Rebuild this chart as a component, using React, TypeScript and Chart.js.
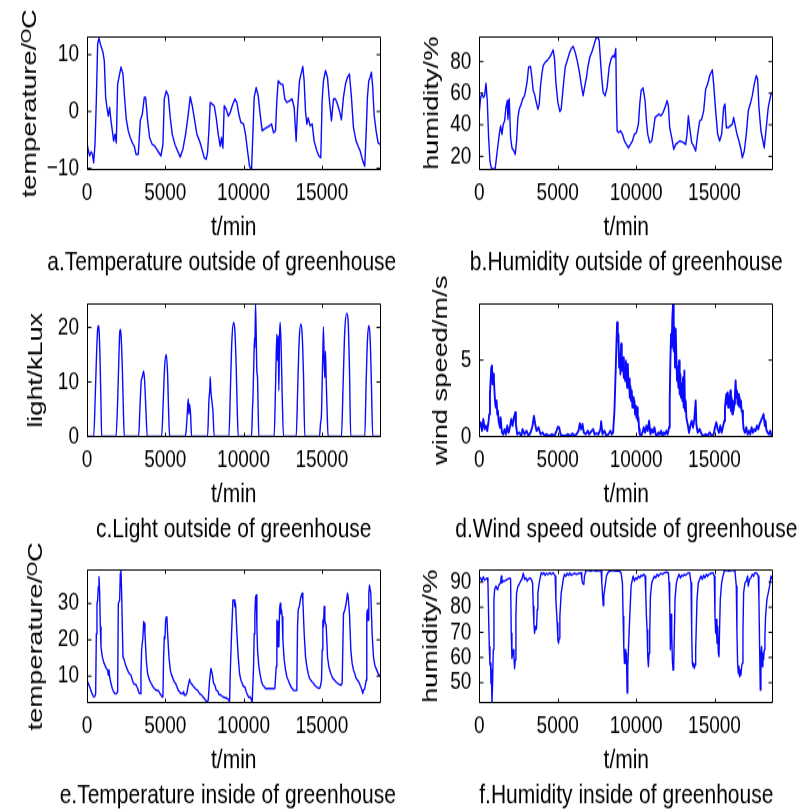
import React, { useEffect, useRef } from "react";
import { Chart, registerables } from "chart.js";

Chart.register(...registerables);

const FONT = '"Liberation Sans", Arial, Helvetica, sans-serif';
const BLUE = "rgb(10,10,255)";

// shared x axis
const xTicks = [0, 5000, 10000, 15000];
const xMax = 18750;
const xTitle = "t/min";

// a. Temperature outside of greenhouse
const tempOutT = [0,85,170,255,340,425,510,596,680,766,851,1021,1106,1191,1277,1362,1447,1532,1617,1702,1787,1872,1957,2043,2170,2298,2383,2511,2638,2766,2894,3021,3128,3277,3404,3532,3660,3745,3872,4000,4170,4340,4511,4723,4851,4936,5064,5191,5319,5447,5617,5787,5957,6128,6298,6468,6596,6723,6851,7021,7191,7319,7489,7617,7702,7787,7872,8000,8128,8255,8383,8511,8596,8681,8766,8894,9021,9149,9277,9447,9574,9702,9830,10000,10128,10255,10383,10511,10596,10681,10809,10936,11064,11191,11319,11489,11660,11787,11915,12043,12128,12213,12383,12511,12638,12766,12936,13106,13234,13362,13447,13574,13702,13787,13872,13957,14043,14128,14255,14383,14511,14681,14809,14936,15021,15106,15234,15362,15489,15617,15745,15872,16000,16128,16255,16383,16511,16638,16766,16894,17021,17191,17319,17447,17617,17745,17830,17915,18000,18085,18170,18255,18340,18468,18596,18723];
const tempOutV = [-5.5,-6.9,-7.8,-7.1,-7.4,-9.0,-5.8,1.9,11.9,12.9,11.9,10.4,8.9,2.5,0.7,-0.8,0.7,-1.6,-3.4,-5.2,-4.0,-5.5,4.8,6.0,7.8,6.6,3.1,-1.4,-3.4,-4.6,-5.5,-6.1,-7.5,-7.5,-1.6,-0.5,2.5,2.5,-1.6,-4.6,-5.8,-6.1,-6.9,-7.8,-5.8,2.2,3.6,2.8,-1.1,-4.0,-5.8,-6.9,-8.0,-6.6,-4.0,-0.5,2.6,1.0,-1.1,-4.0,-5.2,-6.4,-8.1,-8.4,-7.2,-3.4,1.6,1.3,1.0,-1.1,-4.0,-6.1,-4.6,-6.4,1.0,0.4,-0.8,-0.2,1.0,2.2,1.6,-0.5,-1.9,-2.2,-4.0,-6.9,-9.6,-10.2,-4.0,2.5,4.2,2.8,-0.5,-3.4,-3.1,-2.8,-2.5,-2.2,-3.7,-3.4,1.9,5.4,4.8,4.8,2.2,1.6,1.9,2.2,0.7,-5.2,0.1,5.4,6.9,7.9,5.4,0.1,-2.2,-1.1,-2.5,-2.2,-5.2,-6.9,-7.8,-8.1,1.9,5.4,7.2,6.0,1.9,-1.6,2.2,2.2,1.3,0.1,-1.4,2.5,4.8,6.0,6.6,2.5,-2.8,-5.2,-6.1,-6.9,-8.7,-9.6,-4.0,2.5,5.4,6.0,6.9,4.2,-0.5,-3.4,-5.5,-5.8];
const tempOutTicks = [-10, 0, 10];

// b. Humidity outside of greenhouse
const humOutT = [0,85,170,255,340,425,510,594,679,764,892,1019,1146,1274,1359,1444,1529,1614,1699,1783,1826,1911,1996,2081,2208,2293,2378,2463,2548,2675,2760,2887,2972,3057,3142,3270,3355,3439,3524,3609,3737,3822,3907,3992,4076,4204,4331,4459,4586,4713,4798,4883,5011,5138,5223,5350,5478,5605,5732,5860,5987,6115,6242,6369,6497,6624,6752,6837,6921,7049,7176,7304,7431,7558,7643,7728,7813,7898,8025,8153,8280,8408,8535,8620,8705,8747,8790,8875,9002,9130,9257,9384,9512,9639,9766,9894,10021,10149,10234,10318,10446,10573,10658,10743,10870,10998,11125,11210,11338,11465,11592,11720,11847,11975,12059,12144,12272,12399,12527,12654,12781,12909,13036,13164,13248,13333,13418,13546,13673,13800,13928,14055,14183,14310,14437,14565,14692,14862,14947,15074,15202,15329,15456,15584,15669,15754,15881,16008,16136,16221,16306,16433,16561,16688,16773,16900,17028,17155,17282,17410,17537,17665,17750,17834,17962,18089,18174,18301,18429,18556,18641];
const humOutV = [47.8,57.3,59.4,57.3,58.4,66.2,55.2,31.9,17.0,12.8,11.7,12.8,23.4,34.0,39.3,34.0,40.4,42.5,51.0,55.2,43.5,56.3,31.9,25.5,23.4,21.3,29.8,44.6,49.9,53.1,56.3,58.4,62.6,67.9,76.4,76.8,70.0,61.6,59.4,55.2,49.9,53.1,64.7,72.2,77.5,79.6,80.6,82.3,84.4,87.4,81.7,66.9,54.1,48.4,49.9,63.7,76.4,80.6,84.9,88.1,89.5,85.9,80.6,74.3,65.8,58.4,65.8,70.0,76.4,82.8,85.9,90.2,94.4,95.5,93.4,80.6,69.0,60.5,58.4,63.7,76.4,81.7,83.8,82.8,88.1,55.2,36.1,35.1,36.1,34.0,29.8,27.6,25.5,27.6,29.8,34.0,35.1,40.4,53.1,61.6,63.2,55.2,42.5,34.0,28.7,29.8,38.2,44.6,45.7,46.7,45.7,47.8,51.0,55.2,52.0,38.2,31.9,24.5,27.6,28.7,29.8,29.3,28.7,27.6,34.0,45.7,38.2,28.7,26.6,23.4,34.0,42.5,43.5,48.8,62.6,65.8,71.1,74.7,65.8,48.8,34.0,29.8,34.0,51.0,53.1,38.2,38.2,39.3,40.4,44.6,40.4,34.0,29.8,24.5,19.2,23.4,34.0,48.8,53.1,58.4,65.8,71.1,69.0,51.0,36.1,29.8,25.5,38.2,51.0,57.3,60.5];
const humOutTicks = [20, 40, 60, 80];

// c. Light outside of greenhouse
const lightT = [0,426,532,617,681,723,766,830,894,936,1851,1958,2043,2085,2128,2170,2256,2320,2383,3298,3383,3468,3532,3617,3681,3766,3851,4766,4872,4957,5064,5149,5213,5277,6255,6340,6404,6468,6511,6553,6617,6681,7702,7787,7851,7872,7915,7979,8043,8128,9064,9170,9255,9362,9447,9532,9596,9660,10511,10575,10596,10660,10702,10724,10766,10809,10851,10894,10936,10979,11957,12043,12128,12170,12213,12255,12298,12340,12404,12468,12553,13362,13468,13553,13660,13745,13830,13915,14851,14915,14979,15021,15064,15106,15149,15191,15234,15277,15340,15404,16255,16362,16468,16596,16681,16766,16851,17745,17830,17915,18000,18085,18170,18255,18750];
const lightV = [0,0,7.8,15.7,19.7,20.3,19.7,14.5,5.9,0,0,6.5,15.1,18.8,19.6,18.8,12.7,5.3,0,0,5.3,10.2,10.9,12.0,10.2,4.7,0,0,6.5,12.7,15.0,11.4,4.7,0,0,1.3,4.1,6.9,4.1,5.9,4.1,0,0,6.5,9.0,10.9,8.4,6.5,4.7,0,0,9.6,17.6,20.9,19.4,12.7,5.3,0,0,5.3,6.5,13.9,18.2,16.3,24.3,18.8,12.0,10.8,4.7,0,0,9.0,18.8,13.9,18.5,8.4,18.2,20.9,16.3,7.8,0,0,9.6,17.6,20.6,18.8,11.4,0,0,2.3,4.1,9.6,15.1,20.1,13.9,10.8,15.7,10.8,4.7,0,0,9.6,19.4,22.6,21.2,12.7,0,0,9.6,17.6,20.3,18.2,9.6,0,0];
const lightTicks = [0, 10, 20];

// d. Wind speed outside of greenhouse  [t/min, m/s]
const windPts: [number, number][] = [[0,0.59],[85,0.92],[170,0.37],[255,1.14],[340,0.48],[425,0.70],[510,0.37],[594,1.03],[637,1.46],[679,2.77],[722,3.65],[764,4.52],[807,4.63],[849,3.43],[892,4.08],[934,3.65],[977,2.77],[1019,2.12],[1062,1.90],[1104,2.34],[1146,1.46],[1189,1.68],[1231,1.03],[1316,0.59],[1359,1.24],[1444,0.26],[1529,0.15],[1613,0.48],[1698,0.15],[1783,0.70],[1868,0.26],[1953,0.59],[2038,1.14],[2123,0.70],[2208,1.24],[2293,1.57],[2335,0.81],[2420,0.15],[2548,0.26],[2675,0.04],[2760,0.48],[2887,0.15],[3015,0.37],[3142,0.04],[3269,0.26],[3397,0.70],[3482,1.35],[3567,0.81],[3652,0.37],[3779,0.59],[3906,0.15],[4034,0.26],[4161,0.04],[4288,0.15],[4458,0.04],[4628,0.15],[4798,0.04],[4925,0.37],[5010,0.63],[5095,0.59],[5180,0.15],[5308,0.04],[5477,0.04],[5647,0.15],[5817,0.04],[5944,0.20],[6072,0.04],[6199,0.15],[6327,0.37],[6411,0.85],[6496,0.48],[6581,0.81],[6666,0.26],[6794,0.15],[6921,0.37],[7006,0.15],[7133,0.33],[7261,0.48],[7346,0.15],[7473,0.20],[7600,0.15],[7728,0.48],[7770,0.98],[7855,0.15],[7982,0.37],[8110,0.04],[8237,0.15],[8365,0.37],[8450,0.15],[8534,0.26],[8619,1.68],[8704,4.52],[8747,6.05],[8789,7.47],[8832,6.27],[8874,6.70],[8917,4.52],[8959,5.39],[9002,4.08],[9044,6.05],[9086,4.96],[9129,4.30],[9171,5.17],[9214,3.86],[9256,4.52],[9299,3.65],[9341,4.96],[9384,4.08],[9426,3.21],[9469,4.74],[9511,3.43],[9554,3.76],[9596,2.55],[9638,3.32],[9681,2.34],[9723,2.99],[9766,1.90],[9808,2.55],[9851,1.90],[9893,2.34],[9936,1.46],[9978,2.01],[10021,1.24],[10063,1.90],[10105,1.03],[10148,1.24],[10190,0.48],[10233,0.15],[10318,0.04],[10403,0.26],[10488,0.59],[10573,0.26],[10657,0.70],[10742,0.37],[10827,1.03],[10912,0.15],[10997,0.48],[11082,0.26],[11167,0.59],[11252,0.15],[11337,0.04],[11422,0.26],[11507,0.15],[11592,0.37],[11677,0.04],[11761,0.26],[11846,0.15],[11931,0.37],[12016,0.15],[12101,0.59],[12144,2.34],[12186,4.96],[12228,6.70],[12271,5.83],[12313,7.79],[12356,8.67],[12398,5.61],[12441,7.14],[12483,4.52],[12526,7.03],[12568,5.17],[12611,3.65],[12653,4.52],[12696,3.21],[12738,4.96],[12780,2.77],[12823,4.08],[12865,2.55],[12908,3.43],[12950,2.34],[12993,3.86],[13035,1.90],[13078,4.30],[13120,1.68],[13163,2.34],[13205,1.24],[13290,0.81],[13375,0.26],[13460,0.70],[13545,1.03],[13630,0.59],[13715,1.14],[13800,2.34],[13842,0.81],[13927,0.26],[14054,0.48],[14182,0.15],[14309,0.04],[14436,0.15],[14564,0.04],[14691,0.26],[14818,0.04],[14946,0.15],[15031,0.59],[15116,0.92],[15201,0.48],[15286,0.26],[15370,0.70],[15455,0.26],[15540,0.63],[15625,1.03],[15668,1.90],[15710,2.34],[15753,2.77],[15795,2.12],[15838,2.88],[15880,1.90],[15923,2.66],[15965,2.12],[16007,2.99],[16050,1.68],[16092,2.55],[16135,1.46],[16177,2.34],[16220,1.68],[16262,2.12],[16305,2.77],[16347,3.65],[16390,2.55],[16432,2.99],[16474,2.12],[16517,2.77],[16559,2.01],[16602,2.55],[16644,1.90],[16687,2.34],[16729,1.68],[16772,1.68],[16814,1.03],[16857,0.48],[16942,0.26],[17026,0.59],[17111,0.15],[17196,0.37],[17281,0.15],[17366,0.59],[17451,0.26],[17536,0.48],[17621,0.37],[17706,0.70],[17791,0.48],[17876,0.81],[17961,1.03],[18046,1.24],[18130,1.46],[18173,1.03],[18215,0.70],[18258,1.03],[18300,0.48],[18385,0.26],[18470,0.15],[18555,0.37],[18640,0.04]];
const windTicks = [0, 5];

// e. Temperature inside of greenhouse
const tempInT = [0,85,170,255,340,426,511,553,596,638,681,724,766,809,851,894,979,1064,1149,1234,1319,1362,1404,1447,1532,1617,1702,1788,1873,1958,2000,2085,2128,2171,2213,2298,2383,2468,2554,2639,2724,2809,2894,2979,3064,3149,3235,3320,3405,3447,3490,3575,3618,3660,3703,3788,3873,3958,4043,4128,4213,4299,4384,4469,4554,4639,4724,4809,4852,4894,4937,4980,5022,5065,5107,5150,5235,5320,5405,5490,5575,5660,5746,5831,5916,6001,6086,6171,6214,6299,6384,6469,6554,6597,6682,6810,6937,7065,7193,7320,7448,7576,7661,7746,7831,7916,8001,8086,8172,8257,8342,8427,8555,8682,8810,8938,9065,9108,9150,9236,9321,9406,9448,9491,9576,9661,9746,9831,9916,10002,10087,10172,10257,10342,10427,10512,10555,10640,10683,10725,10768,10810,10853,10895,10980,11066,11151,11236,11321,11406,11491,11576,11661,11747,11832,12002,12087,12130,12172,12215,12257,12300,12342,12385,12428,12470,12513,12598,12683,12768,12853,12938,13024,13109,13194,13279,13364,13406,13449,13492,13577,13662,13747,13790,13875,13960,14045,14130,14216,14301,14386,14471,14556,14641,14726,14811,14896,14982,15024,15067,15109,15152,15194,15237,15279,15365,15450,15577,15705,15832,15960,16088,16215,16300,16386,16471,16556,16641,16683,16769,16854,16939,17024,17109,17194,17279,17364,17450,17535,17620,17662,17747,17832,17875,17918,17960,18003,18045,18130,18215,18301,18386,18471,18556,18641,18726];
const tempInV = [8.9,8.0,7.1,6.0,5.0,4.3,4.5,5.2,21.7,30.0,30.9,34.6,37.3,32.8,23.6,18.1,15.3,13.9,13.0,12.1,11.7,10.3,11.7,9.8,8.0,6.6,5.7,5.2,5.2,5.7,30.0,30.9,38.3,39.2,32.8,15.3,14.4,13.0,12.1,11.2,10.6,10.3,8.9,8.0,7.8,7.5,6.6,5.4,5.2,10.7,17.2,20.8,25.0,24.5,21.7,14.4,10.7,9.4,8.4,7.8,7.1,6.6,6.3,6.0,6.1,5.4,4.8,4.3,5.2,15.3,20.8,20.4,25.4,26.3,25.9,21.7,15.3,11.7,10.3,9.4,8.4,8.0,7.1,6.1,5.7,5.2,5.2,5.7,4.8,4.8,5.4,7.5,9.1,8.4,7.8,7.1,6.5,6.1,5.2,4.8,4.1,3.4,2.9,3.4,8.9,12.1,10.7,8.0,7.5,6.1,6.0,5.0,4.8,4.3,4.1,3.9,3.4,2.9,10.7,21.7,30.9,30.9,29.1,30.0,21.7,15.3,10.7,8.9,8.0,7.1,7.1,5.7,4.8,4.1,4.3,3.4,2.9,12.6,21.7,27.2,31.8,32.3,23.6,17.2,12.6,10.3,8.4,7.5,7.1,6.6,6.6,6.6,6.6,6.6,6.6,6.6,12.6,25.4,18.1,25.0,18.1,28.2,30.0,27.2,28.2,26.3,20.0,14.4,11.7,9.8,8.9,8.0,7.1,6.6,6.1,6.0,6.1,7.1,23.6,28.2,29.5,31.8,32.8,30.9,21.7,15.3,12.6,10.7,9.4,8.9,8.4,8.0,7.5,7.1,6.9,6.6,6.9,8.9,17.2,25.4,23.6,29.1,25.4,24.5,24.0,15.3,12.6,10.7,9.4,8.8,8.2,7.8,7.5,8.0,27.2,28.2,30.0,32.8,31.8,27.2,17.2,13.5,11.7,10.7,9.4,8.9,8.4,7.5,6.6,5.2,6.1,6.6,8.9,27.2,28.2,25.4,32.8,35.0,32.8,21.7,15.3,13.0,12.1,11.2,10.3,10.3];
const tempInTicks = [10, 20, 30];

// f. Humidity inside of greenhouse  [t/min, %]
const humInPts: [number, number][] = [[0,91.1],[85,91.7],[170,90.4],[255,92.1],[340,90.8],[425,91.3],[510,91.6],[552,89.7],[594,76.4],[637,64.4],[679,57.1],[722,57.7],[743,49.7],[764,55.1],[807,42.1],[849,49.7],[892,63.1],[934,83.1],[977,87.1],[1062,88.4],[1146,87.1],[1189,87.7],[1274,89.1],[1359,89.7],[1401,92.4],[1444,89.7],[1529,90.4],[1613,90.4],[1698,90.8],[1783,91.1],[1868,91.3],[1953,91.7],[1996,91.1],[2038,69.7],[2081,59.7],[2123,61.7],[2165,63.1],[2208,60.4],[2250,55.7],[2293,59.1],[2335,76.4],[2378,85.7],[2463,88.4],[2548,89.1],[2633,90.4],[2717,91.1],[2760,92.4],[2802,93.5],[2887,91.1],[2972,91.7],[3057,90.4],[3142,91.3],[3227,91.7],[3312,91.1],[3397,89.7],[3439,80.4],[3482,73.7],[3524,69.7],[3567,72.4],[3609,71.1],[3652,71.7],[3694,79.1],[3736,85.7],[3821,89.7],[3906,92.4],[3949,93.7],[4034,93.1],[4119,93.7],[4204,92.7],[4288,93.5],[4373,93.1],[4501,93.7],[4586,93.1],[4713,93.7],[4840,92.4],[4883,83.1],[4968,73.7],[5010,67.1],[5053,65.7],[5095,67.7],[5138,76.4],[5223,85.7],[5308,89.1],[5350,91.1],[5435,93.1],[5520,92.4],[5605,93.5],[5690,92.7],[5774,93.7],[5859,92.7],[5944,93.1],[6072,93.5],[6199,93.1],[6369,93.5],[6496,93.7],[6539,91.1],[6581,89.7],[6666,89.1],[6709,92.4],[6794,94.4],[6921,94.8],[7091,94.4],[7261,94.8],[7431,94.4],[7600,94.7],[7770,94.4],[7813,89.7],[7855,85.7],[7898,80.7],[7940,84.4],[8025,88.4],[8110,92.4],[8195,93.7],[8322,94.4],[8492,94.7],[8704,94.4],[8917,94.4],[9044,93.7],[9129,89.7],[9171,76.4],[9214,64.4],[9256,57.7],[9299,63.1],[9341,57.7],[9384,61.7],[9426,46.0],[9469,56.4],[9511,63.1],[9596,76.4],[9681,88.4],[9766,91.1],[9808,92.4],[9893,90.4],[9978,91.7],[10063,91.1],[10148,92.4],[10233,91.7],[10318,92.7],[10403,92.4],[10488,93.1],[10573,92.4],[10615,85.7],[10657,76.4],[10700,71.1],[10742,60.4],[10785,56.4],[10827,61.7],[10870,69.7],[10912,84.1],[10997,89.7],[11082,91.1],[11167,92.4],[11252,91.7],[11337,93.1],[11422,92.4],[11507,93.1],[11592,93.5],[11677,93.1],[11804,93.7],[11931,94.0],[12059,93.7],[12101,89.7],[12144,80.4],[12186,63.1],[12228,77.1],[12271,69.7],[12313,59.1],[12356,55.1],[12398,56.4],[12441,69.7],[12483,83.1],[12568,89.7],[12653,91.7],[12738,93.1],[12823,91.7],[12908,92.7],[12993,92.4],[13078,93.1],[13163,92.7],[13290,93.5],[13417,93.7],[13502,89.7],[13545,69.7],[13587,57.7],[13630,56.4],[13672,57.7],[13715,55.7],[13757,57.1],[13800,63.1],[13884,83.1],[13969,89.7],[14054,91.1],[14139,92.4],[14224,91.1],[14309,92.7],[14394,91.7],[14479,93.1],[14564,92.4],[14649,93.1],[14776,93.5],[14903,93.7],[14988,92.4],[15031,76.4],[15073,69.7],[15116,75.1],[15158,65.7],[15201,72.4],[15243,61.7],[15286,60.4],[15328,72.4],[15370,83.1],[15455,89.7],[15540,92.4],[15625,94.4],[15753,94.8],[15923,94.4],[16135,94.8],[16305,94.4],[16390,88.4],[16432,69.7],[16474,57.7],[16517,53.7],[16559,56.4],[16602,52.4],[16644,55.1],[16687,53.1],[16729,56.4],[16772,57.7],[16814,69.7],[16857,85.7],[16942,89.7],[17026,90.4],[17111,92.4],[17154,88.4],[17239,91.1],[17323,91.7],[17408,93.1],[17493,92.4],[17578,93.7],[17706,93.5],[17791,92.4],[17834,83.1],[17876,64.4],[17919,47.1],[17961,61.7],[18004,64.4],[18046,56.4],[18088,61.7],[18130,59.1],[18173,63.1],[18215,68.4],[18258,76.4],[18343,83.1],[18428,85.7],[18513,88.4],[18598,92.4],[18683,91.1]];
const humInTicks = [50, 60, 70, 80, 90];

const zip = (t: number[], v: number[]) => t.map((x, i) => ({ x, y: v[i] }));
const fromPairs = (p: [number, number][]) => p.map(([x, y]) => ({ x, y }));

type Panel = {
  key: string;
  col: number;
  row: number;
  yTitle: string;
  caption: string;
  captionDx: number;
  yMin: number;
  yMax: number;
  yTicks: number[];
  points: { x: number; y: number }[];
  smooth?: boolean;
  lineWidth: number;
  yTitleX: number;
};

const DEG = "temperature/\u1D3CC";

const panels: Panel[] = [
  { key: "a", col: 0, row: 0, yTitle: DEG, caption: "a.Temperature outside of greenhouse", captionDx: -12, yMin: -10.2, yMax: 13.1, yTicks: tempOutTicks, points: zip(tempOutT, tempOutV), lineWidth: 1.4, yTitleX: 30 },
  { key: "b", col: 1, row: 0, yTitle: "humidity/%", caption: "b.Humidity outside of greenhouse", captionDx: 0, yMin: 11.7, yMax: 95.5, yTicks: humOutTicks, points: zip(humOutT, humOutV), lineWidth: 1.4, yTitleX: 32.5 },
  { key: "c", col: 0, row: 1, yTitle: "light/kLux", caption: "c.Light outside of greenhouse", captionDx: 0, yMin: 0, yMax: 24.3, yTicks: lightTicks, points: zip(lightT, lightV), smooth: true, lineWidth: 1.4, yTitleX: 36 },
  { key: "d", col: 1, row: 1, yTitle: "wind speed/m/s", caption: "d.Wind speed outside of greenhouse", captionDx: 0, yMin: 0, yMax: 8.67, yTicks: windTicks, points: fromPairs(windPts), lineWidth: 1.9, yTitleX: 41.5 },
  { key: "e", col: 0, row: 2, yTitle: DEG, caption: "e.Temperature inside of greenhouse", captionDx: -6, yMin: 2.75, yMax: 39.2, yTicks: tempInTicks, points: zip(tempInT, tempInV), lineWidth: 1.4, yTitleX: 36 },
  { key: "f", col: 1, row: 2, yTitle: "humidity/%", caption: "f.Humidity inside of greenhouse", captionDx: 0, yMin: 42.1, yMax: 94.8, yTicks: humInTicks, points: fromPairs(humInPts), lineWidth: 1.4, yTitleX: 31 },
];

// canvas geometry (internal drawing units; stretched vertically by CSS)
const CW = 400;
const CH = 231;
const CSS_H = 300;
const ROW_TOP = [0, 266.67, 533.33];
const PLOT_LEFT = [87, 79.3];
const PAD_RIGHT = [19.5, 26.7];
const PLOT_TOP = 28.5;
const X_AXIS_H = 60;
const PAD_BOTTOM = CH - 130.5 - X_AXIS_H;

const matlabAxes = {
  id: "matlabAxes",
  afterDraw(chart: any, _args: any, opts: any) {
    const { ctx, chartArea: a, scales } = chart;
    const L = Math.round(a.left) + 0.5;
    const R = Math.round(a.right) - 0.5;
    const T = a.top;
    const B = a.bottom;
    ctx.save();
    ctx.strokeStyle = "#000";
    ctx.lineWidth = 1;
    ctx.beginPath();
    ctx.rect(L, T, R - L, B - T);
    const xs = scales.x;
    const ys = scales.y;
    xs.ticks.forEach((_t: any, i: number) => {
      const px = Math.round(xs.getPixelForTick(i)) + 0.5;
      ctx.moveTo(px, B);
      ctx.lineTo(px, B - 3);
      ctx.moveTo(px, T);
      ctx.lineTo(px, T + 3);
    });
    ys.ticks.forEach((_t: any, i: number) => {
      const py = ys.getPixelForTick(i);
      ctx.moveTo(L, py);
      ctx.lineTo(L + 4, py);
      ctx.moveTo(R, py);
      ctx.lineTo(R - 4, py);
    });
    ctx.stroke();
    ctx.fillStyle = "#000";
    ctx.font = `21px ${FONT}`;
    ctx.textAlign = "center";
    ctx.textBaseline = "middle";
    ctx.fillText(opts.text, (a.left + a.right) / 2 + opts.dx, a.bottom + opts.dy);
    ctx.restore();
  },
};

function PanelChart({ p }: { p: Panel }) {
  const ref = useRef<HTMLCanvasElement | null>(null);
  useEffect(() => {
    if (!ref.current) return;
    const plotLeft = PLOT_LEFT[p.col];
    const chart = new Chart(ref.current, {
      type: "line",
      data: {
        datasets: [
          {
            data: p.points,
            borderColor: BLUE,
            borderWidth: p.lineWidth,
            pointRadius: 0,
            tension: 0,
            cubicInterpolationMode: p.smooth ? "monotone" : "default",
            borderJoinStyle: "round",
            fill: false,
          } as any,
        ],
      },
      options: {
        animation: false,
        responsive: false,
        maintainAspectRatio: false,
        events: [],
        layout: { padding: { left: 0, right: PAD_RIGHT[p.col], top: PLOT_TOP, bottom: PAD_BOTTOM } },
        plugins: {
          legend: { display: false },
          tooltip: { enabled: false },
          title: { display: false },
          matlabAxes: { text: p.caption, dx: p.captionDx, dy: 72 },
        } as any,
        scales: {
          x: {
            type: "linear",
            min: 0,
            max: xMax,
            afterBuildTicks: (s: any) => {
              s.ticks = xTicks.map((value) => ({ value }));
            },
            afterFit: (s: any) => {
              s.height = X_AXIS_H;
            },
            grid: { display: false, drawTicks: false },
            border: { display: false },
            ticks: {
              autoSkip: false,
              maxRotation: 0,
              minRotation: 0,
              padding: 6.7,
              color: "#000",
              font: { family: FONT, size: 19 },
              callback: (v: any) => String(v),
            },
            title: {
              display: true,
              text: xTitle,
              color: "#000",
              font: { family: FONT, size: 21 },
              padding: { top: 0, bottom: 2.3 },
            },
          },
          y: {
            type: "linear",
            min: p.yMin,
            max: p.yMax,
            afterBuildTicks: (s: any) => {
              s.ticks = p.yTicks.map((value) => ({ value }));
            },
            afterFit: (s: any) => {
              s.width = plotLeft;
            },
            grid: { display: false, drawTicks: false },
            border: { display: false },
            ticks: {
              autoSkip: false,
              padding: 8,
              color: "#000",
              font: { family: FONT, size: 19 },
              callback: (v: any) => (Number(v) < 0 ? "\u2212" + Math.abs(Number(v)) : String(v)),
            },
            title: {
              display: true,
              text: p.yTitle,
              color: "#000",
              font: { family: FONT, size: 21 },
              padding: { top: p.yTitleX - 12.6, bottom: 0 },
            },
          },
        },
      } as any,
      plugins: [matlabAxes as any],
    });
    return () => chart.destroy();
  }, [p]);
  return (
    <canvas
      ref={ref}
      width={CW}
      height={CH}
      style={{
        position: "absolute",
        left: p.col * 400,
        top: ROW_TOP[p.row],
        width: CW,
        height: CSS_H,
        display: "block",
      }}
    />
  );
}

export default function App() {
  return (
    <div
      style={{
        position: "absolute",
        left: 0,
        top: 0,
        width: 800,
        height: 809,
        overflow: "hidden",
        background: "#fff",
      }}
    >
      {panels.map((p) => (
        <PanelChart key={p.key} p={p} />
      ))}
    </div>
  );
}
